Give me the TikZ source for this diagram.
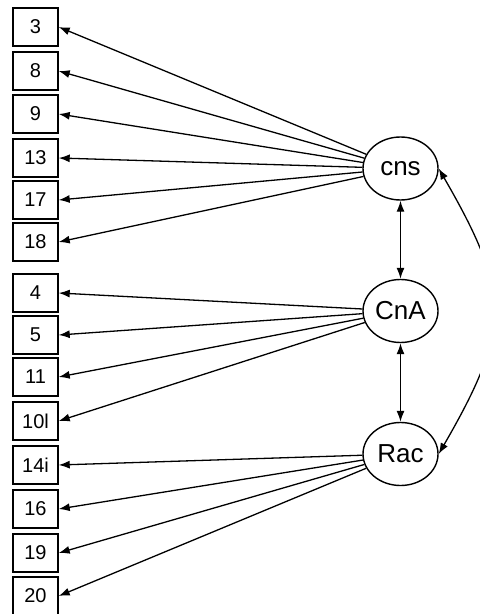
\documentclass[tikz,border=0pt]{standalone}
\usepackage{fontspec}
\setmainfont{Liberation Sans}
\usetikzlibrary{shapes, arrows.meta, positioning}
\tikzstyle{ibox} = [rectangle, draw, line width=0.7pt, minimum width=22.5pt, minimum height=19pt, inner sep=0pt, font=\fontsize{10}{12}\selectfont]
\tikzstyle{lvar} = [ellipse, draw, line width=0.7pt, minimum width=37.5pt, minimum height=31.5pt, inner sep=0pt, font=\fontsize{13}{15}\selectfont]
\tikzstyle{line} = [draw, line width=0.65pt, -{Latex[length=5.5pt, width=4pt]}]
\tikzstyle{cov} = [draw, line width=0.65pt, {Latex[length=5.5pt, width=4pt]}-{Latex[length=5.5pt, width=4pt]}]

\begin{document}
\begin{tikzpicture}[x=0.5pt, y=-0.5pt]
			\useasboundingbox (0,0) rectangle (479,614);
			\node [ibox] (v3) at (35.5,27) {3};
			\node [ibox] (v8) at (35.5,71) {8};
			\node [ibox] (v9) at (35.5,114) {9};
			\node [ibox] (v13) at (35.5,158) {13};
			\node [ibox] (v17) at (35.5,200) {17};
			\node [ibox] (v18) at (35.5,242) {18};
			\node [ibox] (v4) at (35.5,293) {4};
			\node [ibox] (v5) at (35.5,335) {5};
			\node [ibox] (v11) at (35.5,377) {11};
			\node [ibox] (v10l) at (35.5,421) {10l};
			\node [ibox] (v14i) at (35.5,465) {14i};
			\node [ibox] (v16) at (35.5,509) {16};
			\node [ibox] (v19) at (35.5,553) {19};
			\node [ibox] (v20) at (35.5,596) {20};
			
			\node [lvar] (cns) at (400.5,168.5) {cns};
			\node [lvar] (cna) at (400.5,311) {CnA};
			\node [lvar] (rac) at (400.5,454) {Rac};
			
			\path [line] (cns) -- (v3.east);
			\path [line] (cns) -- (v8.east);
			\path [line] (cns) -- (v9.east);
			\path [line] (cns) -- (v13.east);
			\path [line] (cns) -- (v17.east);
			\path [line] (cns) -- (v18.east);
			\path [line] (cna) -- (v4.east);
			\path [line] (cna) -- (v5.east);
			\path [line] (cna) -- (v11.east);
			\path [line] (cna) -- (v10l.east);
			\path [line] (rac) -- (v14i.east);
			\path [line] (rac) -- (v16.east);
			\path [line] (rac) -- (v19.east);
			\path [line] (rac) -- (v20.east);
			
			\path [cov] (cns) -- (cna);
			\path [cov] (cna) -- (rac);
			\path [cov] (cns.east) to [out=-60, in=60, looseness=1.3] (rac.east);
		\end{tikzpicture}
\end{document}
